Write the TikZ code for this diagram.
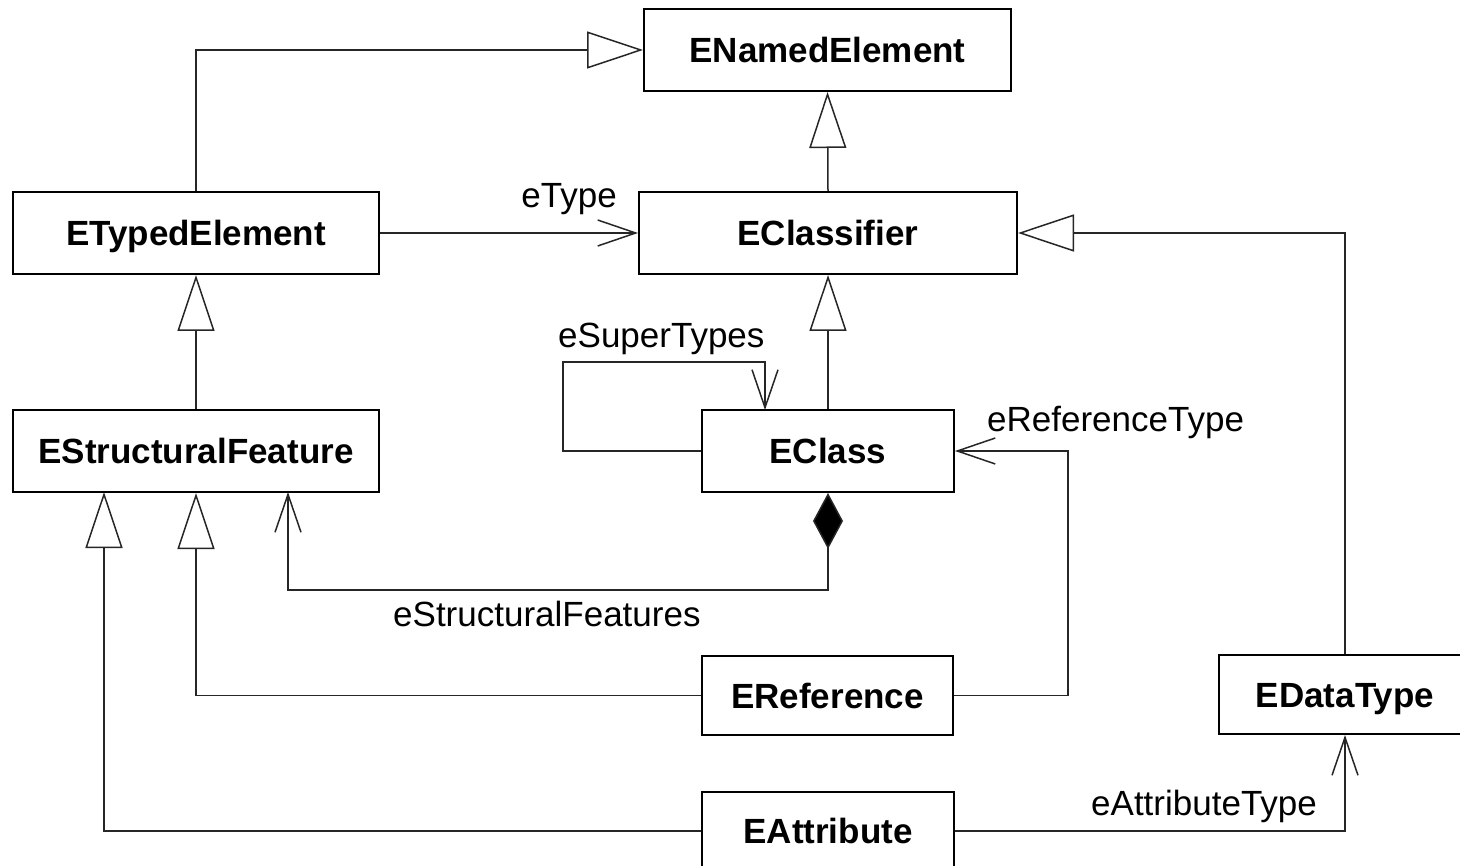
\documentclass[tikz,border=0pt]{standalone}
\usepackage{fontspec}
\setmainfont{Liberation Sans}
\usetikzlibrary{arrows.meta}
\tikzset{
  cls/.style={draw=black, line width=2pt, inner sep=0pt, font=\fontsize{35}{40}\selectfont\bfseries,
    text height=25pt, text depth=0pt, align=center},
  lbl/.style={inner sep=0pt, font=\fontsize{35}{40}\selectfont},
  conn/.style={draw=black!85, line width=1.5pt},
  gen/.style={conn, -{Triangle[open, length=56pt, width=37pt, line width=1.5pt]}},
  nav/.style={conn, -{Straight Barb[length=38pt, width=26pt, line width=1.5pt]}},
  comp/.style={conn, {Diamond[length=56pt, width=30pt, fill=black]}-{Straight Barb[length=38pt, width=26pt, line width=1.5pt]}}
}
\begin{document}
\begin{tikzpicture}[x=1pt,y=-1pt]
\useasboundingbox (0,0) rectangle (1460,866);
% classes
\node[cls, minimum width=367pt, minimum height=82pt] (ENE) at (827.5,50) {ENamedElement};
\node[cls, minimum width=366pt, minimum height=82pt] (ETE) at (196,233) {ETypedElement};
\node[cls, minimum width=378pt, minimum height=82pt] (ECf) at (828,233) {EClassifier};
\node[cls, minimum width=366pt, minimum height=82pt] (ESF) at (196,451) {EStructuralFeature};
\node[cls, minimum width=252pt, minimum height=82pt] (EC) at (828,451) {EClass};
\node[cls, minimum width=251pt, minimum height=79pt] (ER) at (827.5,695.5) {EReference};
\node[cls, minimum width=252pt, minimum height=79pt] (EDT) at (1345,694.5) {EDataType};
\node[cls, minimum width=252pt, minimum height=78pt] (EA) at (828,831) {EAttribute};
% helper coordinates
\coordinate (loopL) at (563,362);
\coordinate (loopT) at (765,410);
\coordinate (sfA) at (288,590);
\coordinate (sfT) at (288,492);
\coordinate (refC) at (1068,451);
\coordinate (attT) at (104,492);
% generalizations
\draw[gen] (ETE.north) |- (ENE.west);
\draw[gen] (ECf.north) -- (ENE.south);
\draw[gen] (EDT.north) |- (ECf.east);
\draw[gen] (EC.north) -- (ECf.south);
\draw[gen] (ESF.north) -- (ETE.south);
\draw[gen] (ER.west) -| (ESF.south);
\draw[gen] (EA.west) -| (attT);
% associations
\draw[nav] (ETE.east) -- (ECf.west);
\draw[nav] (EC.west) -| (loopL) -| (loopT);
\draw[comp] (EC.south) |- (sfA) -- (sfT);
\draw[nav] (ER.east) -| (refC) -- (EC.east);
\draw[nav] (EA.east) -| (EDT.south);
% labels
\node[lbl, anchor=base east] (lType) at (617,208) {eType};
\node[lbl, anchor=base west] (lSuper) at (558,348) {eSuperTypes};
\node[lbl, anchor=base west] (lRef) at (987,432) {eReferenceType};
\node[lbl, anchor=base west] (lSF) at (393,626) {eStructuralFeatures};
\node[lbl, anchor=base west] (lAttr) at (1091,815) {eAttributeType};
\end{tikzpicture}
\end{document}
